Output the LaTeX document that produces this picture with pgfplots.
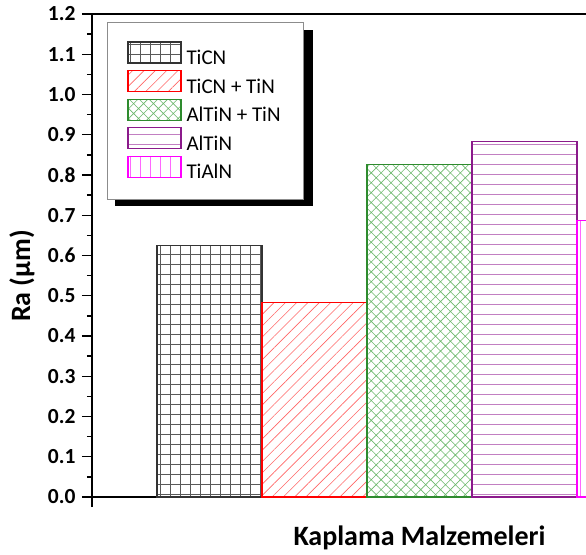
\documentclass[border=0pt]{standalone}
\usepackage{fontspec}
\setmainfont{Carlito}
\usepackage{pgfplots}
\pgfplotsset{compat=1.18}
\usetikzlibrary{patterns.meta}
\definecolor{cgreen}{HTML}{2E8B2E}
\definecolor{cgreenp}{HTML}{6CB86C}
\definecolor{cpurple}{HTML}{8B1A8B}
\definecolor{cpurplep}{HTML}{C27FC2}
\definecolor{cmag}{HTML}{FF00FF}
\pgfplotsset{
  mybar/.style={ybar, bar width=1, bar shift=0pt, line width=1.1pt,
    legend image code/.code={\draw[##1] (0pt,-4pt) rectangle (53pt,17pt);}},
}
\begin{document}
\begin{tikzpicture}
\path[use as bounding box] (0,0) rectangle (586pt,554pt);
\clip (0,0) rectangle (586pt,554pt);
\begin{axis}[
  at={(92pt,57pt)}, anchor=south west,
  scale only axis, width=655pt, height=483pt,
  xmin=-1.119, xmax=5.119, ymin=0, ymax=1.2,
  ytick={0,0.1,0.2,0.3,0.4,0.5,0.6,0.7,0.8,0.9,1.0,1.1,1.2},
  minor y tick num=1,
  xtick=\empty,
  extra x ticks={-1.119}, extra x tick labels={},
  tick align=outside, tick pos=left,
  major tick length=10pt, minor tick length=5pt,
  tick style={black, line width=1.3pt},
  axis line style={line width=1.3pt},
  /pgf/number format/assume math mode=true,
  yticklabel style={/pgf/number format/.cd, fixed, fixed zerofill, precision=1, /tikz/.cd,
     font=\fontsize{21.5}{24}\selectfont\bfseries, xshift=-3pt},
  ylabel={Ra (μm)}, xlabel={Kaplama Malzemeleri},
  every axis y label/.style={at={(axis description cs:-0.0946,0.4575)}, rotate=90, anchor=base,
     font=\fontsize{28}{32}\selectfont\bfseries},
  every axis x label/.style={at={(axis description cs:0.5,-0.0994)}, anchor=base,
     font=\fontsize{28}{32}\selectfont\bfseries},
  legend cell align=left,
  legend style={at={(axis description cs:0.0229,0.9834)}, anchor=north west,
     draw=black!45, line width=0.8pt, fill=white,
     font=\fontsize{21}{24}\selectfont\mdseries,
     inner xsep=20pt, inner ysep=19pt, row sep=3.5pt, column sep=2pt,
     nodes={inner ysep=0pt, inner xsep=3pt, text height=13pt, text depth=2pt}},
]
\fill[black] (axis description cs:0.0351,0.6025) rectangle (axis description cs:0.3374,0.9669);
\addplot[mybar, draw=black!80, pattern={Hatch[angle=0,distance=10pt,line width=0.6pt]}, pattern color=black!65]
  coordinates {(0,0.624)};
\addplot[mybar, draw=red, pattern={Lines[angle=45,distance=8pt,line width=0.6pt]}, pattern color=red!60]
  coordinates {(1,0.483)};
\addplot[mybar, draw=cgreen, pattern={Hatch[angle=45,distance=7pt,line width=0.6pt]}, pattern color=cgreenp]
  coordinates {(2,0.827)};
\addplot[mybar, draw=cpurple, pattern={Lines[angle=0,distance=10pt,line width=0.6pt]}, pattern color=cpurplep]
  coordinates {(3,0.883)};
\addplot[mybar, draw=cmag, pattern={Lines[angle=90,distance=10pt,line width=0.6pt]}, pattern color=cmag!60]
  coordinates {(4,0.686)};
\legend{TiCN, TiCN + TiN, AlTiN + TiN, AlTiN, TiAlN}
\end{axis}
\end{tikzpicture}
\end{document}
